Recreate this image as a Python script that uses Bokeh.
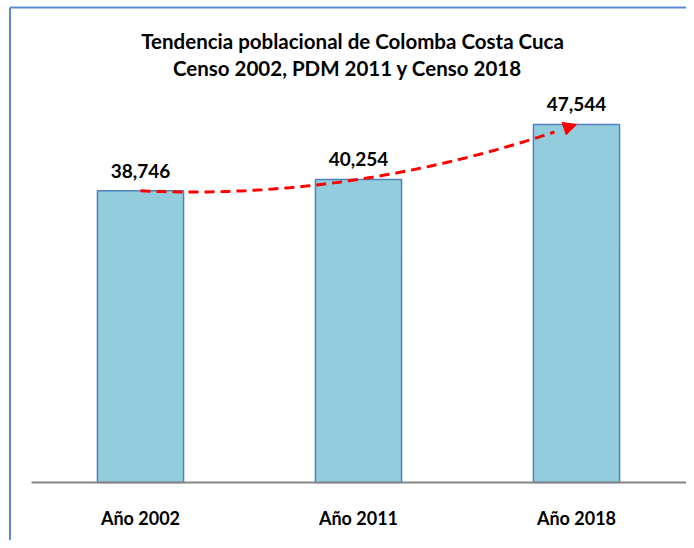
import numpy as np
from bokeh.plotting import figure
from bokeh.models import (Range1d, LinearAxis, FixedTicker, Label, Arrow,
                          NormalHead, ColumnDataSource)
from bokeh.embed import file_html
from bokeh.resources import INLINE
from bokeh.core.properties import value

# ---- data ----
categories = ["Año 2002", "Año 2011", "Año 2018"]
poblacion = [38746, 40254, 47544]
title_lines = ["Tendencia poblacional de Colomba Costa Cuca",
               "Censo 2002,  PDM 2011  y Censo 2018"]

# ---- geometry helpers (canvas px -> data) ----
W, H = 686, 540
X0_PX, X_STEP = 140.0, 218.0          # canvas x of first category, px per category
Y0_PX, Y_PER_PX = 482.0, 132.8        # canvas y of zero line, units per px

def ux(px):
    return (px - X0_PX) / X_STEP

def vy(py):
    return (Y0_PX - py) * Y_PER_PX

p = figure(width=W, height=H, output_backend="svg", toolbar_location=None,
           x_range=Range1d(ux(0), ux(W)), y_range=Range1d(vy(H), vy(0)),
           x_axis_location=None, y_axis_location=None,
           min_border=0, min_border_left=0, min_border_right=0,
           min_border_top=0, min_border_bottom=0)
p.outline_line_color = None
p.grid.visible = False
p.background_fill_color = "white"
p.border_fill_color = "white"

xs = list(range(len(categories)))
src = ColumnDataSource(dict(x=xs, top=poblacion,
                            lab=["{:,}".format(v) for v in poblacion]))

# chart-area border (left and top visible)
p.segment(x0=[ux(9.5), ux(9.5)], y0=[vy(H), vy(7)],
          x1=[ux(9.5), ux(W)], y1=[vy(7), vy(7)],
          line_color="#5B8BD4", line_width=2)

# bars
p.vbar(x="x", top="top", width=0.395, source=src,
       fill_color="#93CDDD", line_color="#4F81BD", line_width=1.5)

# baseline
p.segment(x0=[-0.5], y0=[0], x1=[ux(W)], y1=[0],
          line_color="#868686", line_width=2)

# value labels
p.text(x="x", y="top", text="lab", source=src, y_offset=-20,
       text_align="center", text_baseline="middle",
       text_font=value("Lato"), text_font_style="bold",
       text_font_size="19px", text_color="black")

# trend curve (smooth quadratic through the three values)
coef = np.polyfit(xs, poblacion, 2)
cx = np.linspace(0, 2, 80)
cy = np.polyval(coef, cx)
p.line(cx[:-4], cy[:-4], line_color="#FF0000", line_width=3, line_dash="10 6")
p.add_layout(Arrow(end=NormalHead(size=13, fill_color="#FF0000", line_color="#FF0000"),
                   x_start=cx[-6], y_start=cy[-6], x_end=cx[-1], y_end=cy[-1],
                   line_alpha=0))

# x axis
ax = LinearAxis(fixed_location=0, ticker=FixedTicker(ticks=xs),
                major_label_overrides={i: c for i, c in zip(xs, categories)})
ax.axis_line_color = None
ax.major_tick_line_color = None
ax.minor_tick_line_color = None
ax.major_tick_out = 0
ax.major_label_standoff = 24
ax.major_label_text_font = "Lato"
ax.major_label_text_font_style = "bold"
ax.major_label_text_font_size = "18px"
ax.major_label_text_color = "black"
p.add_layout(ax, "below")

# title
for line, py in zip(title_lines, [40, 67]):
    p.add_layout(Label(x=ux(352), y=vy(py), text=line, text_align="center",
                       text_baseline="middle", text_font="Lato",
                       text_font_style="bold", text_font_size="20.5px",
                       text_color="black"))

open("out.html", "w").write(file_html(p, INLINE))
